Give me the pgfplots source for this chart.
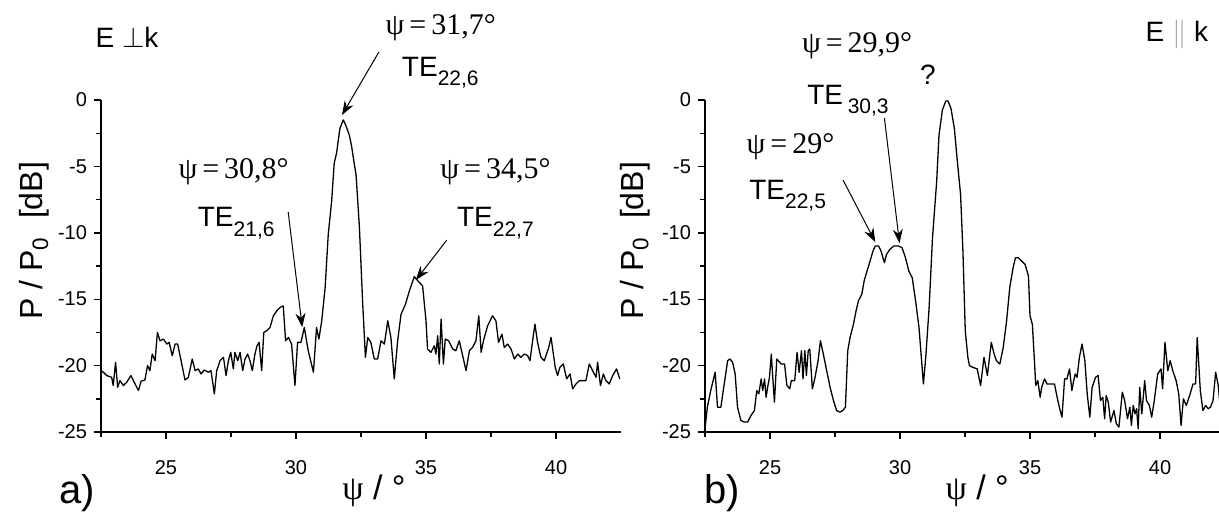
\documentclass[border=0pt]{standalone}
\usepackage{fontspec}
\setmainfont{Liberation Sans}
\newfontfamily\tnr{Liberation Serif}
\usepackage{pgfplots}
\pgfplotsset{compat=1.18}
\usetikzlibrary{arrows.meta}

\newcommand{\TE}[1]{TE\raisebox{-0.65ex}{\fontsize{10.5}{10.5}\selectfont #1}}
\newcommand{\ann}{\fontsize{14}{14}\selectfont}
\newcommand{\psiann}{\fontsize{15}{15}\selectfont\tnr}

\pgfplotsset{
  myax/.style={
    scale only axis, width=260pt, height=166pt,
    xmin=22.5, xmax=42.5, ymin=-25, ymax=0,
    axis x line*=bottom, axis y line*=left,
    axis line style={line width=0.9pt,-},
    xtick={25,30,35,40}, xticklabels={25,30,35,40},
    ytick={-25,-20,-15,-10,-5,0}, yticklabels={-25,-20,-15,-10,-5,0},
    minor xtick={22.5,27.5,32.5,37.5},
    minor ytick={-22.5,-17.5,-12.5,-7.5,-2.5},
    tick align=outside, major tick length=3.5pt, minor tick length=2.5pt,
    tick style={black, line width=0.7pt},
    xtick pos=left, ytick pos=left,
    ticklabel style={font=\fontsize{10}{10}\selectfont},
    xticklabel style={yshift=-7pt},
    clip=false,
  },
  curve/.style={black, line width=0.65pt, mark=none, line join=round},
}
\tikzset{arr/.style={-{Stealth[length=7pt,width=5pt]}, line width=0.5pt, shorten >=0pt}}

\begin{document}
\begin{tikzpicture}
% ---------------- a) ----------------
\begin{axis}[myax, at={(0pt,0pt)}, anchor=south west]
\addplot[curve] coordinates {
(22.50,-20.38) (22.59,-20.50) (22.72,-20.75) (22.91,-20.88) (22.97,-21.50) (23.06,-19.75)
(23.14,-21.63) (23.23,-21.13) (23.36,-21.50) (23.49,-21.25) (23.65,-20.75) (23.81,-21.38)
(23.94,-21.88) (24.04,-21.18) (24.19,-21.08) (24.29,-20.00) (24.38,-20.38) (24.47,-19.13)
(24.58,-19.63) (24.67,-17.50) (24.77,-18.13) (24.90,-18.00) (25.03,-18.38) (25.12,-18.25)
(25.24,-19.25) (25.35,-18.38) (25.45,-18.38) (25.58,-19.63) (25.73,-21.08) (25.86,-20.88)
(26.01,-19.50) (26.12,-20.38) (26.24,-20.25) (26.35,-20.63) (26.47,-20.33) (26.63,-20.50)
(26.73,-20.38) (26.86,-22.13) (26.95,-20.38) (27.08,-19.63) (27.21,-19.38) (27.31,-20.75)
(27.40,-19.63) (27.49,-19.00) (27.59,-20.25) (27.65,-19.00) (27.76,-19.63) (27.85,-19.00)
(27.95,-20.38) (28.04,-19.50) (28.14,-19.13) (28.23,-19.63) (28.32,-20.38) (28.42,-19.13)
(28.50,-18.50) (28.58,-18.25) (28.68,-20.38) (28.76,-17.50) (28.87,-17.38) (29.00,-17.13)
(29.13,-16.25) (29.26,-15.88) (29.38,-15.63) (29.51,-15.50) (29.60,-18.13) (29.71,-17.88)
(29.83,-18.38) (29.96,-21.50) (30.06,-18.25) (30.19,-18.25) (30.32,-17.13) (30.47,-18.88)
(30.67,-20.50) (30.79,-17.13) (30.88,-18.00) (30.99,-16.63) (31.12,-14.13) (31.24,-10.13)
(31.37,-7.63) (31.47,-4.75) (31.56,-4.00) (31.69,-2.13) (31.82,-1.50) (31.91,-1.88)
(32.05,-2.63) (32.14,-3.50) (32.24,-4.80) (32.31,-5.63) (32.44,-9.63) (32.56,-15.13)
(32.67,-19.38) (32.76,-17.88) (32.88,-18.25) (33.01,-19.50) (33.14,-19.50) (33.27,-18.13)
(33.40,-18.38) (33.53,-16.63) (33.65,-17.88) (33.78,-21.00) (33.91,-18.13) (34.04,-16.13)
(34.21,-15.38) (34.36,-14.38) (34.55,-13.30) (34.68,-13.60) (34.87,-14.00) (35.00,-16.63)
(35.06,-18.75) (35.19,-19.00) (35.32,-18.50) (35.38,-19.13) (35.45,-17.75) (35.51,-19.88)
(35.58,-16.50) (35.67,-19.88) (35.74,-18.00) (35.87,-18.13) (36.03,-18.75) (36.15,-18.88)
(36.28,-18.13) (36.41,-19.25) (36.54,-20.38) (36.67,-18.88) (36.79,-18.63) (36.92,-18.13)
(37.03,-16.25) (37.12,-19.00) (37.21,-18.13) (37.37,-17.00) (37.56,-16.25) (37.69,-16.63)
(37.79,-18.25) (37.92,-17.63) (38.01,-18.63) (38.14,-18.38) (38.27,-18.75) (38.40,-19.50)
(38.53,-19.13) (38.65,-19.38) (38.78,-19.13) (38.91,-19.25) (39.00,-19.63) (39.10,-18.13)
(39.19,-16.88) (39.29,-18.25) (39.42,-19.38) (39.55,-19.63) (39.72,-18.63) (39.81,-17.88)
(39.97,-20.13) (40.06,-20.75) (40.15,-20.13) (40.28,-19.88) (40.41,-21.00) (40.54,-20.63)
(40.64,-21.75) (40.77,-21.38) (40.90,-21.13) (41.03,-21.13) (41.15,-21.13) (41.28,-19.88)
(41.44,-20.50) (41.54,-20.88) (41.60,-19.75) (41.71,-21.50) (41.82,-20.63) (41.92,-21.13)
(42.05,-21.38) (42.18,-20.75) (42.33,-20.25) (42.45,-21.00)
};
\node[font=\fontsize{14}{14}\selectfont] at (axis cs:23.50,4.75) {E \ensuremath{\perp}k};
\node[font=\psiann] at (axis cs:35.57,5.43) {ψ\,=\,31,7°};
\node[font=\ann] at (axis cs:35.55,2.05) {\TE{22,6}};
\draw[arr] (axis cs:33.19,3.62) -- (axis cs:31.77,-1.13);
\node[font=\psiann] at (axis cs:27.60,-5.43) {ψ\,=\,30,8°};
\node[font=\ann] at (axis cs:27.70,-9.30) {\TE{21,6}};
\draw[arr] (axis cs:29.70,-8.44) -- (axis cs:30.24,-17.11);
\node[font=\psiann] at (axis cs:37.67,-5.43) {ψ\,=\,34,5°};
\node[font=\ann] at (axis cs:37.67,-9.30) {\TE{22,7}};
\draw[arr] (axis cs:35.80,-10.55) -- (axis cs:34.61,-13.56);
\node[font=\fontsize{16}{16}\selectfont, rotate=90] at (axis cs:19.95,-10.6) {P / P\textsubscript{0}\ \ [dB]};
\node[font=\fontsize{17}{17}\selectfont] at (axis cs:33.0,-29.4) {{\tnr ψ} / °};
\node[font=\fontsize{20}{20}\selectfont] at (axis cs:21.58,-29.6) {a)};
\end{axis}
% ---------------- b) ----------------
\begin{axis}[myax, at={(302pt,0pt)}, anchor=south west]
\addplot[curve] coordinates {
(22.50,-24.75) (22.59,-23.13) (22.72,-21.88) (22.89,-20.50) (22.98,-23.13) (23.11,-23.13)
(23.24,-21.38) (23.37,-19.63) (23.46,-19.50) (23.56,-19.75) (23.66,-20.63) (23.75,-23.13)
(23.88,-24.13) (24.01,-24.25) (24.14,-24.25) (24.27,-23.75) (24.40,-23.38) (24.49,-21.88)
(24.57,-22.13) (24.66,-21.00) (24.72,-21.88) (24.79,-21.00) (24.85,-22.38) (24.92,-21.50)
(24.98,-20.88) (25.05,-19.13) (25.11,-21.00) (25.17,-22.75) (25.26,-19.50) (25.37,-19.75)
(25.43,-19.88) (25.56,-19.88) (25.65,-21.50) (25.76,-21.75) (25.82,-21.13) (25.95,-21.13)
(26.04,-19.00) (26.12,-20.50) (26.21,-18.88) (26.27,-21.00) (26.34,-18.88) (26.40,-20.75)
(26.47,-18.88) (26.53,-18.75) (26.63,-21.75) (26.72,-21.00) (26.85,-19.63) (26.94,-18.13)
(27.05,-19.13) (27.18,-20.38) (27.31,-21.63) (27.44,-22.63) (27.56,-23.38) (27.69,-23.50)
(27.80,-23.38) (27.90,-23.13) (27.99,-18.88) (28.08,-17.88) (28.21,-16.88) (28.31,-15.88)
(28.40,-15.13) (28.53,-14.63) (28.62,-13.63) (28.73,-12.88) (28.83,-12.25) (28.96,-11.38)
(29.05,-11.00) (29.18,-11.00) (29.27,-11.38) (29.40,-12.25) (29.48,-11.63) (29.61,-11.25)
(29.76,-11.00) (29.95,-11.00) (30.08,-11.13) (30.21,-11.88) (30.34,-12.88) (30.47,-13.38)
(30.60,-15.13) (30.73,-17.13) (30.90,-21.38) (30.99,-19.38) (31.12,-15.63) (31.25,-10.38)
(31.41,-6.13) (31.50,-2.63) (31.63,-0.75) (31.76,-0.08) (31.85,-0.08) (31.96,-0.63)
(32.09,-2.13) (32.20,-4.50) (32.33,-7.13) (32.42,-11.38) (32.51,-17.38) (32.61,-19.38)
(32.67,-20.00) (32.80,-20.13) (32.97,-20.25) (33.10,-21.50) (33.23,-19.38) (33.36,-20.75)
(33.51,-18.25) (33.62,-19.13) (33.71,-19.63) (33.84,-19.88) (33.97,-18.63) (34.10,-16.63)
(34.22,-14.13) (34.35,-12.63) (34.44,-11.88) (34.55,-11.88) (34.68,-12.13) (34.81,-12.38)
(34.94,-13.25) (35.00,-16.25) (35.09,-16.88) (35.17,-19.63) (35.22,-21.50) (35.30,-21.13)
(35.39,-22.38) (35.45,-21.63) (35.56,-21.00) (35.65,-21.38) (35.84,-21.38) (35.94,-21.38)
(36.07,-22.63) (36.16,-23.38) (36.23,-23.88) (36.33,-21.00) (36.42,-21.00) (36.52,-20.25)
(36.61,-21.88) (36.68,-21.13) (36.74,-20.63) (36.81,-20.88) (36.90,-19.38) (37.00,-18.38)
(37.11,-19.63) (37.20,-22.13) (37.30,-23.88) (37.39,-21.63) (37.52,-20.88) (37.62,-20.75)
(37.71,-22.63) (37.80,-22.38) (37.87,-24.00) (37.93,-22.25) (38.01,-22.75) (38.10,-24.25)
(38.23,-23.38) (38.32,-24.38) (38.42,-24.63) (38.55,-22.00) (38.64,-22.63) (38.75,-24.00)
(38.84,-23.13) (38.90,-24.50) (38.97,-23.00) (39.04,-23.63) (39.10,-23.25) (39.16,-24.75)
(39.22,-21.63) (39.30,-23.63) (39.41,-21.13) (39.48,-22.63) (39.59,-23.00) (39.68,-23.88)
(39.78,-22.63) (39.91,-20.63) (40.04,-20.25) (40.10,-21.75) (40.19,-18.25) (40.30,-20.38)
(40.39,-19.63) (40.49,-20.38) (40.62,-21.13) (40.72,-22.13) (40.81,-24.50) (40.90,-22.50)
(41.01,-23.00) (41.14,-22.25) (41.27,-21.38) (41.37,-21.38) (41.43,-17.88) (41.55,-21.88)
(41.65,-23.38) (41.76,-23.00) (41.85,-23.25) (41.94,-23.13) (42.04,-22.63) (42.14,-20.50)
(42.24,-21.50) (42.33,-23.38) (42.43,-23.25)
};
\node[font=\fontsize{14}{14}\selectfont] at (axis cs:40.65,4.97) {E \textcolor{black!35}{\ensuremath{\parallel}} k};
\node[font=\psiann] at (axis cs:28.35,4.10) {ψ\,=\,29,9°};
\node[font=\ann] at (axis cs:31.07,1.90) {?};
\node[font=\ann] at (axis cs:28.00,-0.05) {TE\,\raisebox{-0.65ex}{\fontsize{10.5}{10.5}\selectfont 30,3}};
\draw[arr] (axis cs:29.40,-1.36) -- (axis cs:29.98,-10.78);
\node[font=\psiann] at (axis cs:25.79,-3.54) {ψ\,=\,29°};
\node[font=\ann] at (axis cs:25.68,-7.20) {\TE{22,5}};
\draw[arr] (axis cs:27.81,-6.03) -- (axis cs:29.05,-10.70);
\node[font=\fontsize{16}{16}\selectfont, rotate=90] at (axis cs:19.80,-10.6) {P / P\textsubscript{0}\ \ [dB]};
\node[font=\fontsize{17}{17}\selectfont] at (axis cs:32.97,-29.4) {{\tnr ψ} / °};
\node[font=\fontsize{20}{20}\selectfont] at (axis cs:23.16,-29.6) {b)};
\end{axis}
\pgfresetboundingbox
\path (-50.5pt,-41pt) rectangle (559pt,216pt);
\end{tikzpicture}
\end{document}
